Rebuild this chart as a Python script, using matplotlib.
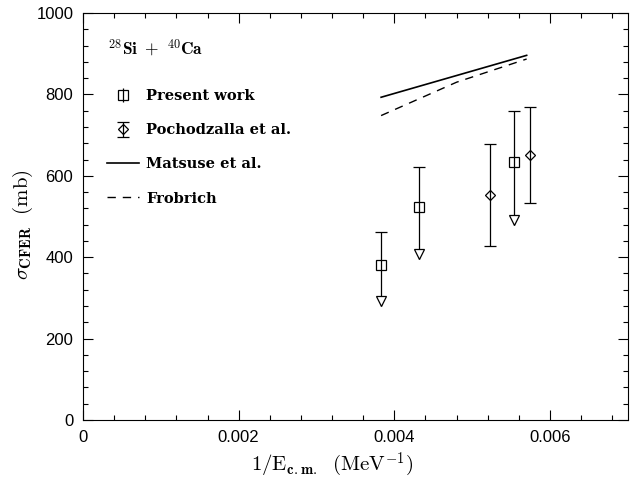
import numpy as np
import matplotlib
matplotlib.use('Agg')
import matplotlib.pyplot as plt
from matplotlib.ticker import MultipleLocator
from matplotlib.transforms import offset_copy

plt.rcParams['mathtext.fontset'] = 'cm'

# present work: value, upper error bar end, lower (arrow) end
pw_x = [0.00383, 0.00432, 0.00554]
pw_y = [380, 523, 635]
pw_hi = [462, 622, 760]
pw_lo = [279, 395, 479]

# Pochodzalla et al.
po_x = [0.00523, 0.00574]
po_y = [553, 652]
po_err = [125, 118]

# model curves
mat_x = [0.00383, 0.0057]
mat_y = [793, 896]
fro_x = [0.00383, 0.0048, 0.0057]
fro_y = [748, 830, 887]

fig = plt.figure(figsize=(6.31, 4.82), dpi=100)
ax = fig.add_axes([0.1315, 0.1286, 0.8635, 0.8444])

lw = 0.9
# present work
ax.vlines(pw_x, pw_lo, pw_hi, color='k', lw=lw)
ax.plot(pw_x, pw_hi, ls='none', marker='_', ms=9, mew=lw, color='k')
ax.plot(pw_x, pw_y, ls='none', marker='s', ms=6.5, mfc='none', mec='k', mew=lw)
tr = offset_copy(ax.transData, fig=fig, x=0, y=4.0, units='points')
ax.plot(pw_x, pw_lo, ls='none', marker='v', ms=7, mfc='white', mec='k', mew=lw,
        transform=tr)
pw_h = ax.errorbar([], [], yerr=[], fmt='s', ms=6.5, mfc='none', mec='k', mew=lw,
                   ecolor='k', elinewidth=lw, capsize=4, capthick=lw, label='Present work')

# Pochodzalla
po_h = ax.errorbar(po_x, po_y, yerr=po_err, fmt='D', ms=5, mfc='none', mec='k', mew=lw,
                   ecolor='k', elinewidth=lw, capsize=4.5, capthick=lw,
                   label='Pochodzalla et al.')

mat_h, = ax.plot(mat_x, mat_y, 'k-', lw=1.2, label='Matsuse et al.')
fro_h, = ax.plot(fro_x, fro_y, 'k--', lw=1.0, dashes=(6, 5), label='Frobrich')

ax.text(0.046, 0.914, r'$\mathbf{^{28}Si\ +\ ^{40}Ca}$', transform=ax.transAxes,
        fontsize=12.5, ha='left', va='center')
leg = ax.legend(handles=[pw_h, po_h, mat_h, fro_h], loc='upper left',
                bbox_to_anchor=(0.02, 0.845), frameon=False, handlelength=2.2,
                labelspacing=1.38, handletextpad=0.5,
                prop={'family': 'DejaVu Serif', 'weight': 'bold', 'size': 10.5})

ax.set_xlim(0, 0.007)
ax.set_ylim(0, 1000)
ax.xaxis.set_major_locator(MultipleLocator(0.002))
ax.xaxis.set_minor_locator(MultipleLocator(0.0004))
ax.yaxis.set_major_locator(MultipleLocator(200))
ax.yaxis.set_minor_locator(MultipleLocator(40))
ax.set_xticks([0, 0.002, 0.004, 0.006])
ax.set_xticklabels(['0', '0.002', '0.004', '0.006'])
ax.tick_params(which='both', direction='in', top=True, right=True, width=0.8)
ax.tick_params(which='major', length=7, labelsize=12, pad=7)
ax.tick_params(which='minor', length=3.5)
for lab in ax.get_xticklabels() + ax.get_yticklabels():
    lab.set_family('Liberation Sans')

ax.set_xlabel(r'$1/\mathrm{E}_{\mathbf{c.m.}}\ \ (\mathrm{MeV}^{-1})$', fontsize=15)
ax.set_ylabel(r'$\sigma_{\mathbf{CFER}}\ \ (\mathrm{mb})$', fontsize=15)
ax.xaxis.set_label_coords(0.457, -0.075)
ax.yaxis.set_label_coords(-0.088, 0.48)

fig.savefig('out.png', dpi=100)
